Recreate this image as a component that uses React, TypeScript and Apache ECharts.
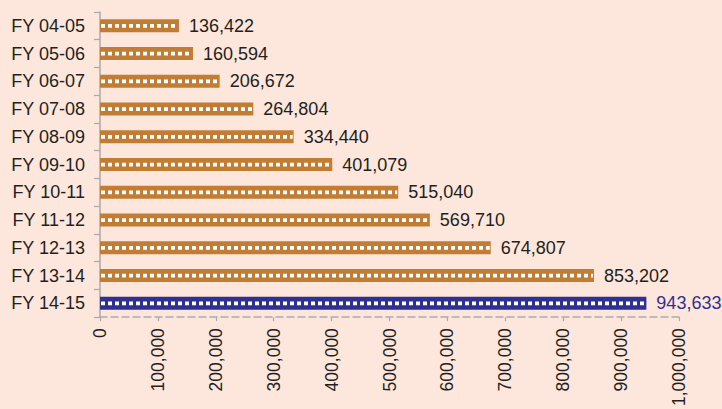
import React, { useEffect, useRef } from "react";
import * as echarts from "echarts";

const categories = [
  "FY 04-05", "FY 05-06", "FY 06-07", "FY 07-08", "FY 08-09", "FY 09-10",
  "FY 10-11", "FY 11-12", "FY 12-13", "FY 13-14", "FY 14-15",
];
const values = [136422, 160594, 206672, 264804, 334440, 401079, 515040, 569710, 674807, 853202, 943633];
const highlightIndex = 10;

const BG = "#fde6dc";
const ORANGE = "#c27d35";
const BLUE = "#2e3192";
const TEXT = "#231f20";
const FONT = "Liberation Sans, Arial, sans-serif";

const fmt = (v: number) => v.toLocaleString("en-US");

export default function App() {
  const ref = useRef<HTMLDivElement>(null);
  useEffect(() => {
    if (!ref.current) return;
    const chart = echarts.init(ref.current, undefined, { renderer: "svg" });
    const barData = values.map((v, i) => ({
      value: v,
      itemStyle: { color: i === highlightIndex ? BLUE : ORANGE },
      label: { color: i === highlightIndex ? BLUE : TEXT },
    }));
    chart.setOption({
      animation: false,
      backgroundColor: BG,
      grid: { left: 100, right: 43, top: 12, bottom: 85 },
      xAxis: {
        type: "value",
        min: 0,
        max: 1000000,
        interval: 100000,
        splitLine: { show: false },
        axisLine: { show: true, lineStyle: { color: "#aaaaaa", width: 1.5, type: [7, 4] } },
        axisTick: { show: true, length: 4, lineStyle: { color: "#aaaaaa", width: 1.2 } },
        axisLabel: {
          rotate: 90,
          margin: 11,
          color: TEXT,
          fontSize: 17.5,
          fontFamily: FONT,
          formatter: (v: number) => fmt(v),
        },
      },
      yAxis: {
        type: "category",
        data: categories,
        inverse: true,
        axisLine: { show: true, lineStyle: { color: "#aaaaaa", width: 1.5 } },
        axisTick: { show: true, length: 6, lineStyle: { color: "#aaaaaa", width: 1.2 } },
        axisLabel: { margin: 15, color: TEXT, fontSize: 18, fontFamily: FONT },
      },
      series: [
        {
          type: "bar",
          data: barData,
          barWidth: 13,
          label: {
            show: true,
            position: "right",
            distance: 10,
            fontSize: 18,
            fontFamily: FONT,
            formatter: (p: any) => fmt(p.value),
          },
        },
        {
          type: "custom",
          data: values.map((v, i) => [v, i]),
          encode: { x: 0, y: 1 },
          silent: true,
          z: 5,
          renderItem: (params: any, api: any) => {
            const end = api.coord([api.value(0), api.value(1)]);
            const start = api.coord([0, api.value(1)]);
            return {
              type: "line",
              shape: { x1: start[0] + 1, y1: end[1], x2: end[0] - 1, y2: end[1] },
              style: { stroke: "#ffffff", lineWidth: 3.8, lineDash: [4, 3] },
            };
          },
        },
      ],
    });
    return () => chart.dispose();
  }, []);
  return (
    <div
      ref={ref}
      style={{ position: "fixed", left: 0, top: 0, width: 722, height: 409 }}
    />
  );
}
